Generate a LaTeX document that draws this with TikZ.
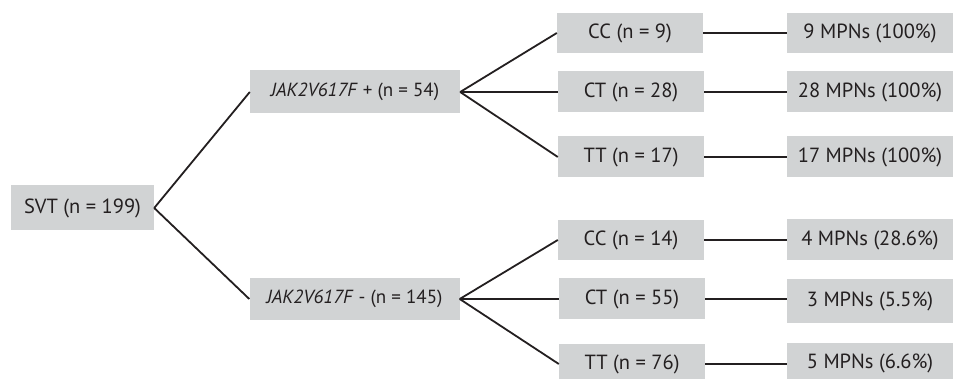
\documentclass[tikz,border=0pt]{standalone}
\usepackage{fontspec}
\setmainfont{PT Sans}
\definecolor{boxgray}{HTML}{D1D3D4}
\definecolor{inkc}{HTML}{231F20}
\begin{document}
\begin{tikzpicture}[x=1pt,y=-1pt,
  gbox/.style={fill=boxgray,inner sep=0pt,text=inkc,font=\fontsize{20.5}{24}\selectfont,anchor=center},
  jbox/.style={gbox,font=\fontsize{19}{22}\selectfont},
  conn/.style={draw=inkc,line width=1.8pt}]
\useasboundingbox (0,0) rectangle (953,379);
\node[gbox,minimum width=143pt,minimum height=45pt] (svt) at (82.5,208) {SVT (n = 199)};
\node[jbox,minimum width=210pt,minimum height=43pt] (jp) at (355,92) {\textit{JAK2V617F} + (n = 54)};
\node[jbox,minimum width=210pt,minimum height=42pt] (jm) at (354.5,299) {\textit{JAK2V617F} - (n = 145)};
\node[gbox,minimum width=146pt,minimum height=40pt] (cc1) at (630,33) {CC (n = 9)};
\node[gbox,minimum width=146pt,minimum height=41pt] (ct1) at (631,92) {CT (n = 28)};
\node[gbox,minimum width=146pt,minimum height=41pt] (tt1) at (631,157) {TT (n = 17)};
\node[gbox,minimum width=146pt,minimum height=40pt] (cc2) at (631,240) {CC (n = 14)};
\node[gbox,minimum width=146pt,minimum height=41pt] (ct2) at (632,299) {CT (n = 55)};
\node[gbox,minimum width=146pt,minimum height=40pt] (tt2) at (632,364) {TT (n = 76)};
\node[gbox,minimum width=166pt,minimum height=40pt] (m1) at (870,33) {9 MPNs (100\%)};
\node[gbox,minimum width=166pt,minimum height=41pt] (m2) at (870,92) {28 MPNs (100\%)};
\node[gbox,minimum width=166pt,minimum height=41pt] (m3) at (870,157) {17 MPNs (100\%)};
\node[gbox,minimum width=166pt,minimum height=41pt] (m4) at (870,240) {4 MPNs (28.6\%)};
\node[gbox,minimum width=166pt,minimum height=43pt] (m5) at (870,301) {3 MPNs (5.5\%)};
\node[gbox,minimum width=166pt,minimum height=40pt] (m6) at (870,363) {5 MPNs (6.6\%)};
\draw[conn] (svt.east) -- (jp.west);
\draw[conn] (svt.east) -- (jm.west);
\draw[conn] (jp.east) -- (cc1.west);
\draw[conn] (jp.east) -- (ct1.west);
\draw[conn] (jp.east) -- (tt1.west);
\draw[conn] (jm.east) -- (cc2.west);
\draw[conn] (jm.east) -- (ct2.west);
\draw[conn] (jm.east) -- (tt2.west);
\draw[conn] (cc1.east) -- (m1.west |- cc1.east);
\draw[conn] (ct1.east) -- (m2.west |- ct1.east);
\draw[conn] (tt1.east) -- (m3.west |- tt1.east);
\draw[conn] (cc2.east) -- (m4.west |- cc2.east);
\draw[conn] (ct2.east) -- (m5.west |- ct2.east);
\draw[conn] (tt2.east) -- (m6.west |- tt2.east);
\end{tikzpicture}
\end{document}
